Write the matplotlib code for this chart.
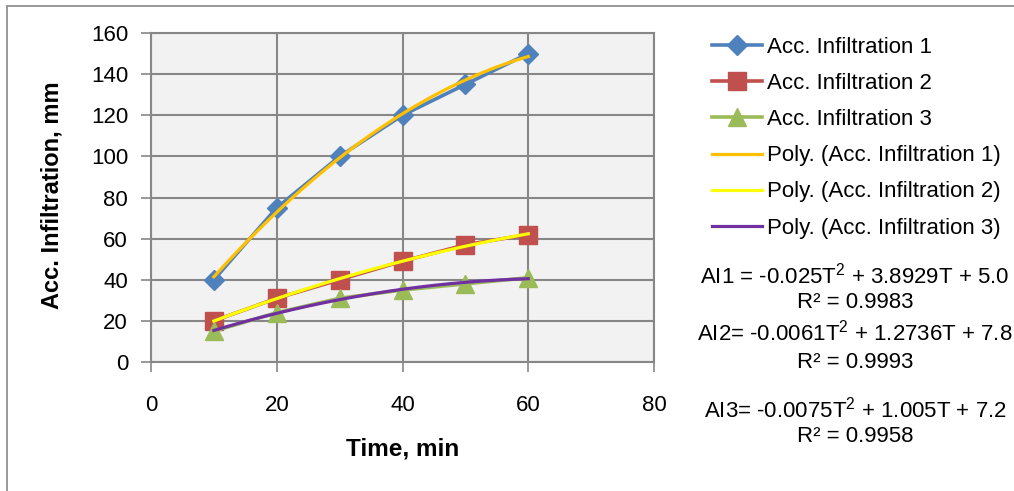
import numpy as np
import matplotlib
matplotlib.use("Agg")
import matplotlib.pyplot as plt
from matplotlib.patches import Rectangle

plt.rcParams['font.family'] = ['Liberation Sans', 'DejaVu Sans']
plt.rcParams['mathtext.fontset'] = 'custom'
plt.rcParams['mathtext.rm'] = 'Liberation Sans'
plt.rcParams['mathtext.it'] = 'Liberation Sans:italic'
plt.rcParams['mathtext.bf'] = 'Liberation Sans:bold'

time_min = [10, 20, 30, 40, 50, 60]
acc_inf_1 = [40, 75, 100, 120, 135, 150]
acc_inf_2 = [20, 31, 40, 49, 57, 62]
acc_inf_3 = [15, 24, 31, 35, 38, 41]

series_labels = ["Acc. Infiltration 1", "Acc. Infiltration 2", "Acc. Infiltration 3"]
trend_labels = ["Poly. (Acc. Infiltration 1)", "Poly. (Acc. Infiltration 2)", "Poly. (Acc. Infiltration 3)"]
equations = ["AI1 = -0.025T$^{2}$ + 3.8929T + 5.0", "R² = 0.9983",
             "AI2= -0.0061T$^{2}$ + 1.2736T + 7.8", "R² = 0.9993",
             "AI3= -0.0075T$^{2}$ + 1.005T + 7.2", "R² = 0.9958"]
x_ticks = [0, 20, 40, 60, 80]
y_ticks = [0, 20, 40, 60, 80, 100, 120, 140, 160]

series_colors = ["#4F81BD", "#C0504D", "#9BBB59"]
markers = ["D", "s", "^"]
msizes = [10, 13, 13]
trend_colors = ["#FFC000", "#FFFF00", "#7030A0"]

W, H = 1014, 491
fig = plt.figure(figsize=(W/100, H/100), dpi=100)
fig.patch.set_facecolor("white")

# outer chart border
fig.add_artist(Rectangle((7/W, -0.1), 1.2, 1 - 6/H + 0.1, transform=fig.transFigure,
                         fill=False, edgecolor="#868686", linewidth=1.2))

L, R, T, B = 151, 654, 33, 362
ax = fig.add_axes([L/W, 1 - B/H, (R-L)/W, (B-T)/H])
ax.set_facecolor("#F2F2F2")
ax.set_xlim(0, 80)
ax.set_ylim(0, 160)
ax.set_xticks(x_ticks)
ax.set_yticks(y_ticks)
ax.grid(True, color="#878787", linewidth=1.5)
ax.set_axisbelow(True)
for s in ax.spines.values():
    s.set_color("#878787")
    s.set_linewidth(1.5)
ax.tick_params(axis='both', direction='out', length=7, width=1.2, color="#878787",
               labelsize=16, labelcolor="black")
ax.tick_params(axis='x', pad=17)
ax.tick_params(axis='y', pad=9.5)

handles = []
data = [acc_inf_1, acc_inf_2, acc_inf_3]
for d, c, m, ms, lab in zip(data, series_colors, markers, msizes, series_labels):
    h, = ax.plot(time_min, d, color=c, marker=m, markersize=ms, linewidth=2.6,
                 markeredgecolor=c, label=lab, zorder=3)
    handles.append(h)

tx = np.linspace(time_min[0], time_min[-1], 200)
for d, c, lab in zip(data, trend_colors, trend_labels):
    coef = np.polyfit(time_min, d, 2)
    h, = ax.plot(tx, np.polyval(coef, tx), color=c, linewidth=2.3, label=lab, zorder=4)
    handles.append(h)

fig.text(403/W, 1 - 449/H, "Time, min", fontsize=17.5, fontweight="bold",
         ha="center", va="center")
fig.text(52/W, 1 - 195/H, "Acc. Infiltration, mm", fontsize=17, fontweight="bold",
         ha="center", va="center", rotation=90)

leg = fig.legend(handles=handles, loc="upper left", bbox_to_anchor=(712/W, 1 - 37/H),
                 frameon=False, fontsize=16, handlelength=2.25, handletextpad=0.22,
                 labelspacing=0.68, borderpad=0, borderaxespad=0)

eq_y = [276, 303, 333, 362, 410, 437]
for txt, yy in zip(equations, eq_y):
    fig.text(855/W, 1 - yy/H, txt, ha="center", va="center", fontsize=16)

fig.savefig("out.png", dpi=100)
